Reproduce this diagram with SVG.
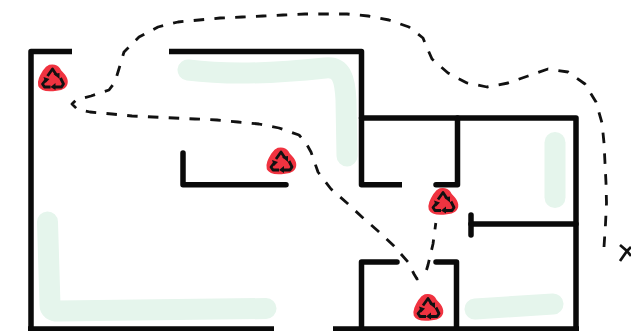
<svg xmlns="http://www.w3.org/2000/svg" width="631" height="331" viewBox="0 0 631 331">
<defs>
<style>
.wall{fill:none;stroke:#0a0a0a;stroke-width:5.5;stroke-linecap:round;stroke-linejoin:round}
.butt{stroke-linecap:butt}
.green{fill:none;stroke:#e5f5ec;stroke-width:21;stroke-linecap:round;stroke-linejoin:round}
.route{fill:none;stroke:#111;stroke-width:2.8;stroke-dasharray:10.500 10.300;stroke-linejoin:round}
.blob{fill:#f03340;stroke:#f03340;stroke-width:1.500;stroke-linejoin:round}
.sym{fill:none;stroke:#111;stroke-width:2.800;stroke-linejoin:round;stroke-linecap:butt}
</style>
<g id="recycle">
<path class="blob" d="M-3-12.500C2-13.500 5-12 7-9C9-5 14-3 14.500 3C15 9 10 11.500 4 12C-3 13-11 13-13.500 8C-15 3-12-2-9-7C-7-10-6-11.500-3-12.500Z"/>
<path class="sym" d="M-5-2L0-9L4-3"/>
<path class="sym" d="M8 0L11 6L9 9L2 9"/>
<path class="sym" d="M-6 1L-10 6L-8 9L-2 9"/>
<path d="M1-4L7-5L7 1ZM3 5L-2 9L3 12ZM-9-1L-3 1L-7 5Z" fill="#111"/>
</g>
</defs>
<rect width="631" height="331" fill="#fff"/>
<g id="green-zones">
<path class="green" d="M188 70C220 74 270 74 325 68C342 66 345 80 346 100L347 156"/>
<path class="green" d="M555 142.500L555 197.500"/>
<path class="green" d="M47.500 222L50 305Q50 311 58 311L266 308.500"/>
<path class="green" d="M475 309L553 304"/>
</g>
<g id="walls">
<path class="wall butt" d="M72 51.500L31 51.500L31 331"/>
<path class="wall butt" d="M169 51.500L361.500 51.500L361.500 184.800L402 184.800"/>
<path class="wall" d="M361.500 118L576 118L576 331"/>
<path class="wall" d="M457.500 118L457.500 184.800L436 184.800"/>
<path class="wall" d="M183 153L183 184.800L286 184.800"/>
<path class="wall" d="M471 224L576 224"/>
<path class="wall" d="M471 215L471 235"/>
<path class="wall" d="M397 262L361.500 262L361.500 331"/>
<path class="wall" d="M436 262L456.500 262L456.500 331"/>
<path class="wall butt" d="M28 329L274 329M333 329L579 329"/>
</g>
<g id="connectors">
<path class="route" d="M604 247L605.500 224L606.500 203L606 183L605 163L604 143L602 123L596 102L585 84L568 72L548 69L528 76L508 83L487 87L467 83L448 73L432 59L425 43L423 38L409 27L389 20L368 16L347 14L326 14L305 14L283 15L263 16L242 17L220 18L199 20L178 22L158 27L139 37L124 52L118 72L115 82L109 90L91 96L76 100L72 104L77 109L90 112L112 114L132 116L153 117L174 118L195 119L217 120L238 122L259 124L279 128L299 135L306 143L311 152L318 172L331 189L347 203L362 217L378 231L394 246L408 262L414 274L417 279L421 278"/>
<path class="route" d="M426.500 270L428 265L433 244L435.800 223"/>
<path d="M620 245L627 251L620 261M627 251L631 247M627 251L631 256" fill="none" stroke="#111" stroke-width="2.700"/>
</g>
<use id="bin-1" href="#recycle" x="52.500" y="78"/>
<use id="bin-2" href="#recycle" x="281" y="161"/>
<use id="bin-3" href="#recycle" x="443" y="201.500"/>
<use id="bin-4" href="#recycle" x="428" y="307.500"/>
</svg>
